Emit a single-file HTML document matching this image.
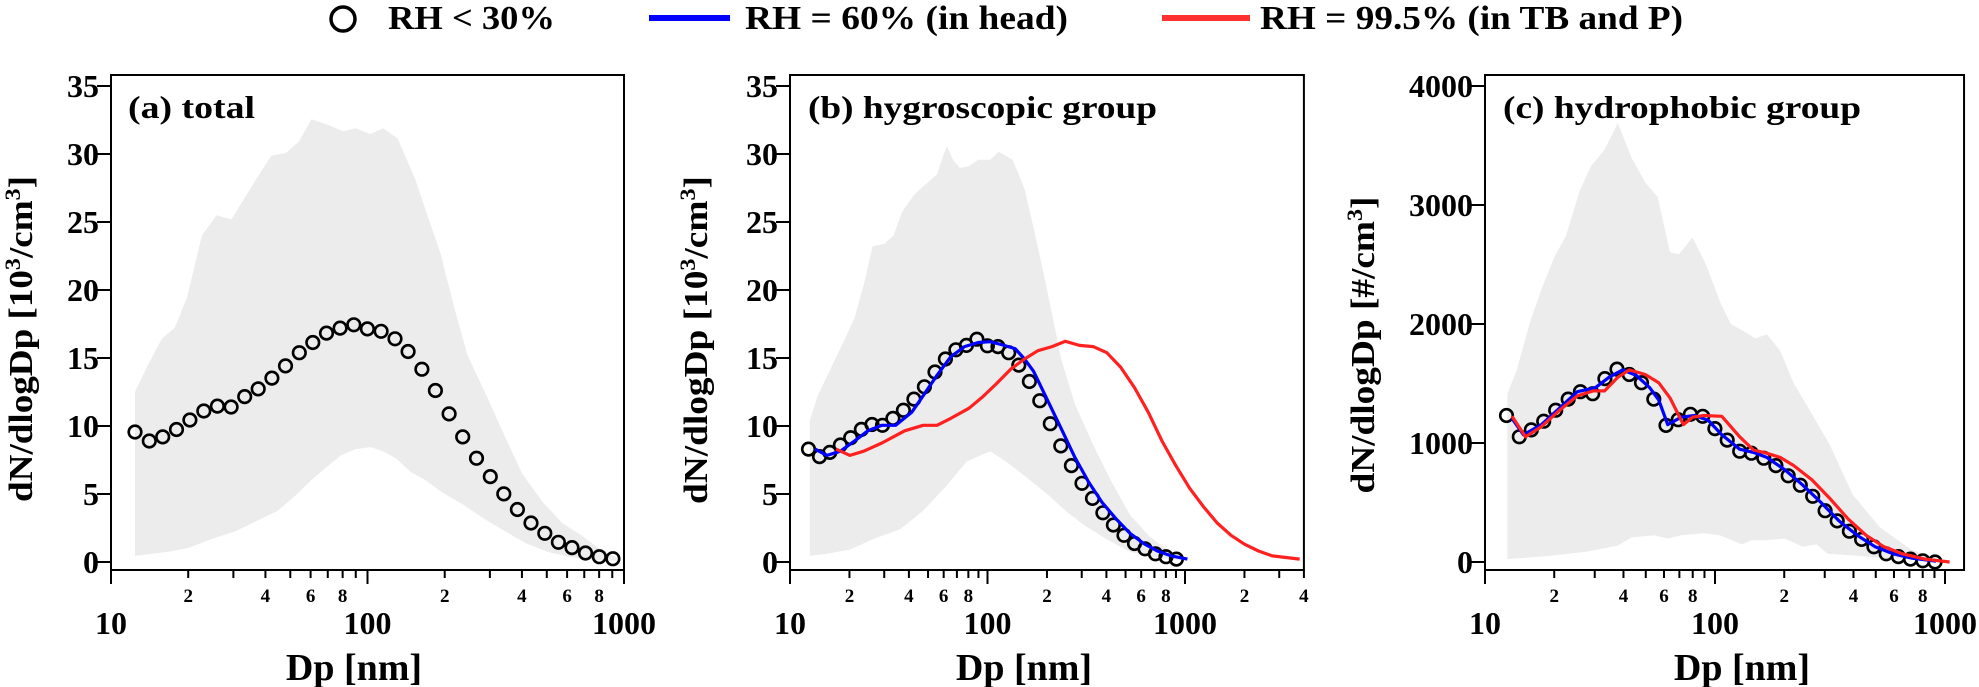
<!DOCTYPE html>
<html><head><meta charset="utf-8">
<style>
html,body{margin:0;padding:0;background:#fff;}
svg{display:block;}
text{font-family:"Liberation Serif","Times New Roman",serif;font-weight:bold;fill:#000;}
</style></head>
<body>
<svg id="chart" width="1979" height="687" viewBox="0 0 1979 687" xmlns="http://www.w3.org/2000/svg">
  <g>
    <g>
      <circle cx="343" cy="19" r="12" fill="none" stroke="#000" stroke-width="3.5"/>
      <text x="388" y="29" font-size="34" textLength="167" lengthAdjust="spacingAndGlyphs">RH &lt; 30%</text>
    </g>
    <g>
      <line x1="649" y1="18" x2="730" y2="18" stroke="#0000ff" stroke-width="6"/>
      <text x="745" y="29" font-size="34" textLength="323" lengthAdjust="spacingAndGlyphs">RH = 60% (in head)</text>
    </g>
    <g>
      <line x1="1162" y1="18" x2="1250" y2="18" stroke="#ff3030" stroke-width="6"/>
      <text x="1260" y="29" font-size="34" textLength="423" lengthAdjust="spacingAndGlyphs">RH = 99.5% (in TB and P)</text>
    </g>
  </g>
  <g id="panels"></g>
</svg>
<script>
// shared diameters for circle series (nm)
const dp = [12.4,14.1,15.9,18.0,20.3,23.0,26.0,29.4,33.2,37.5,42.4,47.9,54.2,61.2,69.2,78.2,88.4,99.9,113,128,144,163,184,208,235,266,301,340,384,434,491,555,627,708,801,905];

// Panel (a) total
const aDry = [9.56,8.90,9.20,9.74,10.44,11.10,11.46,11.40,12.16,12.73,13.52,14.42,15.39,16.14,16.83,17.20,17.44,17.14,16.96,16.41,15.48,14.18,12.61,10.89,9.20,7.63,6.28,5.01,3.86,2.87,2.11,1.45,1.06,0.66,0.39,0.24];
const aUpX = [12.4,13.8,15.8,17.7,19.8,22.6,25.8,29.5,33.0,37.0,42.2,48.2,54.0,60.5,70.4,80.3,89.9,102.6,115,131,153,171,192,219,245,296,344,401,484,574,681,791,938];
const aUpY = [12.52,14.33,16.44,17.20,19.46,23.99,25.49,25.19,26.70,28.21,29.87,30.08,30.92,32.55,32.13,31.68,31.89,31.47,31.89,31.14,28.21,25.49,22.78,18.55,15.24,11.92,9.20,6.49,4.37,2.87,1.96,1.06,0.30];
const aLoX = [12.4,16.7,20.2,24.4,30.6,38.4,44.7,52.0,60.5,70.4,78.8,89.9,103,115,129,147,168,195,236,285,344,416,502,607,762,938];
const aLoY = [0.45,0.75,1.06,1.66,2.26,3.17,3.77,4.83,6.03,7.09,7.84,8.30,8.45,8.15,7.63,6.64,6.03,5.13,4.22,3.17,2.26,1.36,0.75,0.39,0.15,0.09];

// Panel (b) hygroscopic
const bDry = [8.30,7.75,8.06,8.60,9.14,9.75,10.11,10.05,10.56,11.16,11.98,12.88,13.97,14.93,15.60,15.93,16.38,15.90,15.84,15.39,14.48,13.27,11.86,10.17,8.54,7.09,5.79,4.68,3.62,2.72,1.96,1.36,0.97,0.60,0.39,0.21];
const bBlueX = [13.4,15.4,18.0,21.2,24.8,29.2,34.3,41.3,47.2,55.5,65.1,76.5,89.8,103,117,138,154,171,201,236,277,325,381,448,526,618,725,851,1028];
const bBlueY = [8.30,7.84,8.15,8.90,9.65,10.05,10.05,11.01,12.22,13.73,15.09,15.84,16.14,16.20,15.99,15.69,14.93,14.03,11.92,9.81,7.69,5.88,4.37,3.17,2.11,1.36,0.81,0.45,0.21];
const bRedX = [17.1,20.1,23.6,29.2,38.1,47.2,55.5,65.1,80.7,94.8,111,131,154,180,212,248,292,343,402,472,555,652,765,898,1055,1239,1455,1709,2006,2355,2765,3810];
const bRedY = [8.30,7.84,8.15,8.75,9.65,10.05,10.05,10.56,11.31,12.16,13.12,14.18,14.93,15.54,15.84,16.23,15.93,15.84,15.39,14.33,12.82,11.01,8.90,7.09,5.43,4.07,2.87,1.96,1.30,0.81,0.45,0.21];
const bUpX = [12.6,13.8,16.2,19.0,21.2,23.6,26.2,30.0,33.4,37.1,42.5,49.9,55.5,60.1,62.4,66.9,72.5,80.7,89.8,103,114,134,154,171,190,212,236,277,343,425,526,652,807,938];
const bUpY = [10.41,12.22,14.33,16.44,17.95,20.36,23.23,23.38,23.99,25.79,27.00,27.91,28.51,30.02,30.56,29.57,28.96,29.11,29.57,29.57,30.17,29.57,27.45,24.59,21.57,18.25,14.93,11.62,8.60,5.88,3.47,1.96,0.91,0.30];
const bLoX = [12.6,15.4,20.1,26.2,36.1,47.2,61.8,78.5,103,124,154,201,248,308,402,526,725,938];
const bLoY = [0.45,0.60,0.91,1.66,2.41,3.77,5.58,7.39,8.15,7.39,6.34,4.98,3.77,2.72,1.66,0.75,0.30,0.15];

// Panel (c) hydrophobic
const cDry = [1231,1052,1110,1183,1276,1369,1431,1414,1541,1621,1576,1507,1369,1148,1196,1241,1224,1121,1024,931,914,872,810,724,645,552,431,345,259,190,128,69,45,24,10,0];
const cBlueX = [13.1,14.7,17.6,21.1,25.2,30.2,34.6,39.6,45.4,52.0,56.9,62.3,71.3,81.6,93.5,107,128,147,168,201,241,289,346,415,497,595,713,914];
const cBlueY = [1207,1069,1155,1293,1431,1465,1552,1614,1569,1465,1362,1155,1217,1231,1190,1069,948,921,879,776,645,500,345,224,128,69,34,7];
const cRedX = [13.1,15.0,17.6,21.1,25.2,29.6,33.1,37.8,42.4,49.7,56.9,63.7,72.9,79.8,89.3,107,128,147,168,192,220,264,316,379,454,543,652,817,1047];
const cRedY = [1224,1052,1138,1276,1396,1438,1438,1552,1614,1576,1507,1379,1155,1217,1231,1224,1052,941,914,879,810,690,534,362,224,128,69,24,0];
const cUpX = [12.5,13.7,15.7,17.6,20.1,22.5,25.8,28.9,33.1,37.8,43.4,49.7,56.3,63.7,69.7,79.8,91.4,105,117,131,150,168,192,220,252,316,396,520,713,922];
const cUpY = [1414,1603,2017,2293,2569,2741,3120,3327,3465,3689,3396,3189,3069,2603,2586,2724,2500,2189,2000,1948,1879,1914,1776,1500,1310,983,569,293,103,34];
const cLoX = [12.5,19.2,27.6,37.8,43.4,54.3,62.3,71.3,89.3,105,122,131,144,164,201,241,276,309,415,652,922];
const cLoY = [24,52,86,138,207,224,197,224,241,224,172,148,183,183,197,128,148,69,52,24,10];

// Axis tick labels
const yTicksAB = [0,5,10,15,20,25,30,35];
const yTicksC = [0,1000,2000,3000,4000];
const majorLabels = ["10","100","1000"];
const minorLabelsAC = ["2","4","6","8"];

const NS = "http://www.w3.org/2000/svg";
const root = document.getElementById("panels");
function mk(tag, attrs, parent){ const e=document.createElementNS(NS,tag); for(const k in attrs) e.setAttribute(k,attrs[k]); (parent||root).appendChild(e); return e; }

function panel(cfg){
  const g = mk("g",{});
  
  
  const x = v => cfg.x0 + (Math.log10(v) - 1) * cfg.dec;
  const y = v => cfg.y0 - v * cfg.ky;
  const xr = cfg.x0 + (Math.log10(cfg.xmax) - 1) * cfg.dec;
  // shaded range
  let d = "";
  cfg.upX.forEach((v,i)=>{ d += (i?"L":"M") + x(v).toFixed(1) + "," + y(cfg.upY[i]).toFixed(1); });
  for(let i=cfg.loX.length-1;i>=0;i--) d += "L" + x(cfg.loX[i]).toFixed(1) + "," + y(cfg.loY[i]).toFixed(1);
  const sh = mk("path",{d:d+"Z",fill:"#ececec",stroke:"none"},g);
  
  
  // lines
  const line = (xs, ys, color, nm) => {
    const p = mk("polyline",{points:xs.map((v,i)=>x(v).toFixed(1)+","+y(ys[i]).toFixed(1)).join(" "),fill:"none",stroke:color,"stroke-width":3.2,"stroke-linejoin":"round"},g);
    
    
  };
  // circles
  const cg = mk("g",{},g);
  
  
  if (cfg.redX && cfg.name==="panel-b-hygroscopic") {}
  cfg.dry.forEach((v,i)=>{
    const c = mk("circle",{cx:x(dp[i]).toFixed(1),cy:y(v).toFixed(1),r:6.3,fill:"none",stroke:"#000","stroke-width":2.6},cg);
    
    
  });
  if (cfg.blueX) line(cfg.blueX, cfg.blueY, "#0000ff", "rh-60-line");
  if (cfg.redX) line(cfg.redX, cfg.redY, "#ff2020", "rh-99-5-line");
  // frame
  const fr = mk("rect",{x:cfg.x0,y:75,width:xr-cfg.x0,height:495,fill:"none",stroke:"#000","stroke-width":2},g);
  
  
  // y ticks
  cfg.yt.forEach(v=>{
    mk("line",{x1:cfg.x0-14,x2:cfg.x0,y1:y(v),y2:y(v),stroke:"#000","stroke-width":2},g);
    const t = mk("text",{x:cfg.x0-12-(cfg.yPad||0),y:y(v)+11,"font-size":32,"text-anchor":"end"},g);
    t.textContent = v;
    
    
  });
  // x ticks
  for(let dcd=1; dcd<=3; dcd++){
    for(let m=1; m<=9; m++){
      const val = m*Math.pow(10,dcd);
      if (val > cfg.xmax*1.0001) break;
      const px = x(val);
      mk("line",{x1:px,x2:px,y1:570,y2:m===1?584:578,stroke:"#000","stroke-width":2},g);
      if (m===1){
        const t = mk("text",{x:px,y:634,"font-size":32,"text-anchor":"middle"},g);
        t.textContent = majorLabels[dcd-1];
        
        
      } else if (m%2===0 && (dcd<3 || cfg.third)) {
        const t = mk("text",{x:px,y:602,"font-size":19,"text-anchor":"middle"},g);
        t.textContent = minorLabelsAC[m/2-1];
        
        
      }
    }
  }
  const tt = mk("text",{x:cfg.titleX,y:118,"font-size":32,textLength:cfg.titleW,lengthAdjust:"spacingAndGlyphs"},g);
  tt.textContent = cfg.title;
  
  
  const xt = mk("text",{x:cfg.xTitleX,y:680,"font-size":38,"text-anchor":"middle"},g);
  xt.textContent = "Dp [nm]";
  
  
  const yt = mk("text",{x:0,y:0,"font-size":34,"text-anchor":"middle",textLength:cfg.yLen,lengthAdjust:"spacingAndGlyphs",transform:`translate(${cfg.yBase},${cfg.yMid}) rotate(-90)`},g);
  yt.innerHTML = cfg.yTitle;
  
  
}

panel({name:"panel-a-total",x0:111,dec:256.5,xmax:1000,y0:562,ky:13.6,dry:aDry,upX:aUpX,upY:aUpY,loX:aLoX,loY:aLoY,yt:yTicksAB,
  title:"(a) total",titleX:128,titleW:127,xTitleX:354,yBase:32,yMid:339,yLen:326,
  yTitle:'dN/dlogDp [10<tspan font-size="22" dy="-12">3</tspan><tspan dy="12">/cm</tspan><tspan font-size="22" dy="-12">3</tspan><tspan dy="12">]</tspan>'});
panel({name:"panel-b-hygroscopic",x0:790,dec:197.5,xmax:4000,third:true,y0:562,ky:13.6,dry:bDry,upX:bUpX,upY:bUpY,loX:bLoX,loY:bLoY,
  blueX:bBlueX,blueY:bBlueY,redX:bRedX,redY:bRedY,yt:yTicksAB,
  title:"(b) hygroscopic group",titleX:808,titleW:349,xTitleX:1024,yBase:707,yMid:340,yLen:328,
  yTitle:'dN/dlogDp [10<tspan font-size="22" dy="-12">3</tspan><tspan dy="12">/cm</tspan><tspan font-size="22" dy="-12">3</tspan><tspan dy="12">]</tspan>'});
panel({name:"panel-c-hydrophobic",x0:1485,dec:230,xmax:1210,y0:562,ky:0.119,dry:cDry,upX:cUpX,upY:cUpY,loX:cLoX,loY:cLoY,
  blueX:cBlueX,blueY:cBlueY,redX:cRedX,redY:cRedY,yt:yTicksC,
  title:"(c) hydrophobic group",titleX:1503,titleW:358,xTitleX:1742,yBase:1374,yMid:345,yLen:297,
  yTitle:'dN/dlogDp [#/cm<tspan font-size="22" dy="-12">3</tspan><tspan dy="12">]</tspan>'});
</script>
</body></html>
